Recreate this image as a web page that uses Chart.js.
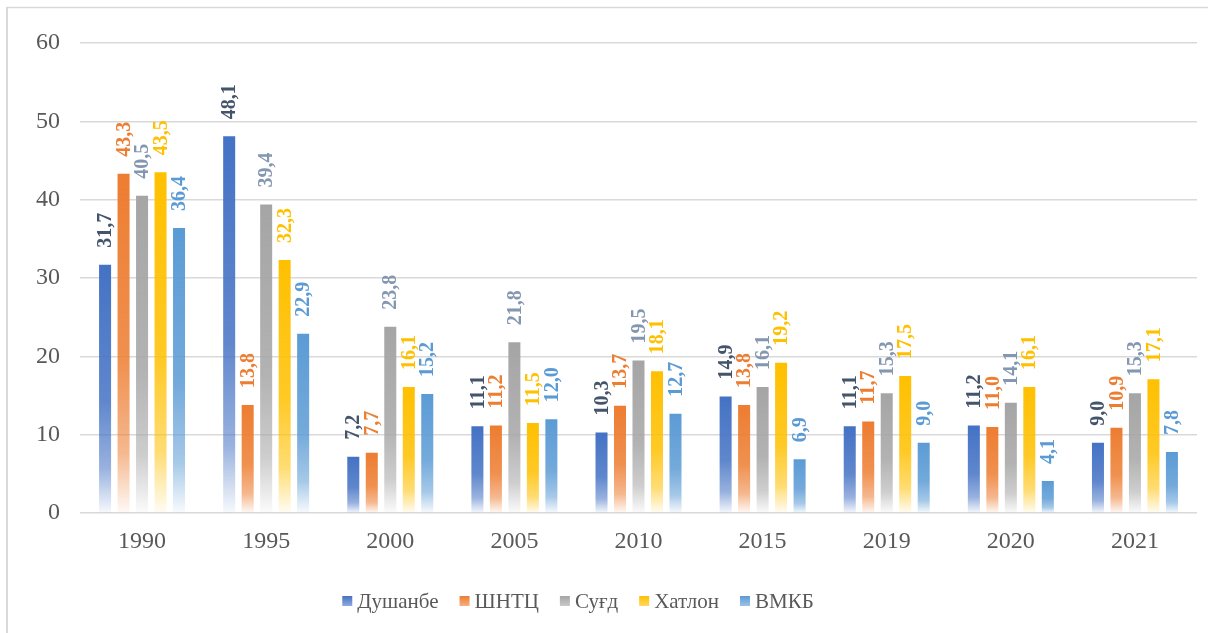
<!DOCTYPE html>
<html>
<head>
<meta charset="utf-8">
<script src="https://cdn.jsdelivr.net/npm/chart.js@4/dist/chart.umd.min.js"></script>
<style>
  html, body { margin: 0; padding: 0; background: #fff; }
  #wrap { width: 1208px; height: 633px; }
</style>
</head>
<body>
<div id="wrap"><canvas id="chart" width="1208" height="633"></canvas></div>
<script>
const years = ["1990", "1995", "2000", "2005", "2010", "2015", "2019", "2020", "2021"];
const dushanbe = [31.7, 48.1, 7.2, 11.1, 10.3, 14.9, 11.1, 11.2, 9.0];
const shntts = [43.3, 13.8, 7.7, 11.2, 13.7, 13.8, 11.7, 11.0, 10.9];
const sughd = [40.5, 39.4, 23.8, 21.8, 19.5, 16.1, 15.3, 14.1, 15.3];
const khatlon = [43.5, 32.3, 16.1, 11.5, 18.1, 19.2, 17.5, 16.1, 17.1];
const vmkb = [36.4, 22.9, 15.2, 12.0, 12.7, 6.9, 9.0, 4.1, 7.8];
const yTicks = [0, 10, 20, 30, 40, 50, 60];

const serif = "'Liberation Serif', 'Times New Roman', serif";

function rgba(hex, a) {
  const n = parseInt(hex.slice(1), 16);
  return `rgba(${n >> 16}, ${(n >> 8) & 255}, ${n & 255}, ${a})`;
}

// per-bar vertical gradient: solid at the top, fading out at the base
function barFill(hex) {
  return (c) => {
    const chart = c.chart;
    if (c.type !== "data" || !chart.chartArea) return hex;
    const y = chart.scales.y;
    const top = y.getPixelForValue(c.raw);
    const base = y.getPixelForValue(0);
    if (!isFinite(top) || base - top < 1) return hex;
    const g = chart.ctx.createLinearGradient(0, top, 0, base);
    g.addColorStop(0, rgba(hex, 1));
    g.addColorStop(0.55, rgba(hex, 0.85));
    g.addColorStop(0.82, rgba(hex, 0.55));
    g.addColorStop(1, rgba(hex, 0.04));
    return g;
  };
}

const series = [
  { label: "Душанбе", data: dushanbe, color: "#4472C4", labelColor: "#44546A" },
  { label: "ШНТЦ", data: shntts, color: "#ED7D31", labelColor: "#ED7D31" },
  { label: "Суғд", data: sughd, color: "#A5A5A5", labelColor: "#8497B0" },
  { label: "Хатлон", data: khatlon, color: "#FFC000", labelColor: "#FFC000" },
  { label: "ВМКБ", data: vmkb, color: "#5B9BD5", labelColor: "#5B9BD5" }
];

// rotated value labels above each bar
const valueLabels = {
  id: "valueLabels",
  afterDatasetsDraw(chart) {
    const ctx = chart.ctx;
    chart.data.datasets.forEach((ds, i) => {
      const meta = chart.getDatasetMeta(i);
      const s = series[i];
      meta.data.forEach((bar, j) => {
        const txt = ds.data[j].toFixed(1).replace(".", ",");
        ctx.save();
        ctx.translate(bar.x, bar.y - 17);
        ctx.rotate(-Math.PI / 2);
        ctx.font = "bold 20px " + serif;
        ctx.fillStyle = s.labelColor;
        ctx.textAlign = "left";
        ctx.textBaseline = "middle";
        ctx.fillText(txt, 0, 1);
        ctx.restore();
      });
    });
  }
};

// frame lines along the top and left edge
const frame = {
  id: "frame",
  beforeDraw(chart) {
    const ctx = chart.ctx;
    ctx.save();
    ctx.strokeStyle = "#D9D9D9";
    ctx.lineWidth = 2;
    ctx.beginPath();
    ctx.moveTo(7, 7);
    ctx.lineTo(7, chart.height);
    ctx.stroke();
    ctx.lineWidth = 1.5;
    ctx.beginPath();
    ctx.moveTo(6, 7.5);
    ctx.lineTo(chart.width, 7.5);
    ctx.stroke();
    ctx.restore();
  }
};

// legend drawn by hand so box/text spacing matches the original
const bottomLegend = {
  id: "bottomLegend",
  afterDraw(chart) {
    const ctx = chart.ctx;
    const box = 10, boxGap = 5, itemGap = 21, centerX = 578, centerY = 601;
    ctx.save();
    ctx.font = "21px " + serif;
    const widths = series.map((s) => ctx.measureText(s.label).width);
    const total = widths.reduce((a, w) => a + box + boxGap + w, 0) + itemGap * (series.length - 1);
    let x = centerX - total / 2;
    series.forEach((s, i) => {
      const g = ctx.createLinearGradient(0, centerY - box / 2, 0, centerY + box / 2);
      g.addColorStop(0, s.color);
      g.addColorStop(1, rgba(s.color, 0.6));
      ctx.fillStyle = g;
      ctx.fillRect(x, centerY - box / 2, box, box);
      x += box + boxGap;
      ctx.fillStyle = "#595959";
      ctx.textAlign = "left";
      ctx.textBaseline = "middle";
      ctx.fillText(s.label, x, centerY + 1);
      x += widths[i] + itemGap;
    });
    ctx.restore();
  }
};

new Chart(document.getElementById("chart"), {
  type: "bar",
  data: {
    labels: years,
    datasets: series.map((s) => ({
      label: s.label,
      data: s.data,
      backgroundColor: barFill(s.color),
      borderWidth: 0,
      categoryPercentage: 0.745,
      barPercentage: 0.65
    }))
  },
  options: {
    responsive: false,
    animation: false,
    layout: { padding: { top: 43, right: 11, bottom: 71, left: 0 } },
    scales: {
      x: {
        grid: { display: false },
        border: { display: false },
        ticks: { color: "#595959", font: { family: serif, size: 24 }, padding: 6 }
      },
      y: {
        min: 0,
        max: 60,
        afterBuildTicks(axis) { axis.ticks = yTicks.map((v) => ({ value: v })); },
        afterFit(axis) { axis.width = 80; },
        grid: { color: "#D9D9D9", lineWidth: 1.5, drawTicks: false },
        border: { display: false },
        ticks: { color: "#595959", font: { family: serif, size: 24 }, padding: 20 }
      }
    },
    plugins: {
      legend: { display: false },
      tooltip: { enabled: false }
    }
  },
  plugins: [frame, valueLabels, bottomLegend]
});
</script>
</body>
</html>
